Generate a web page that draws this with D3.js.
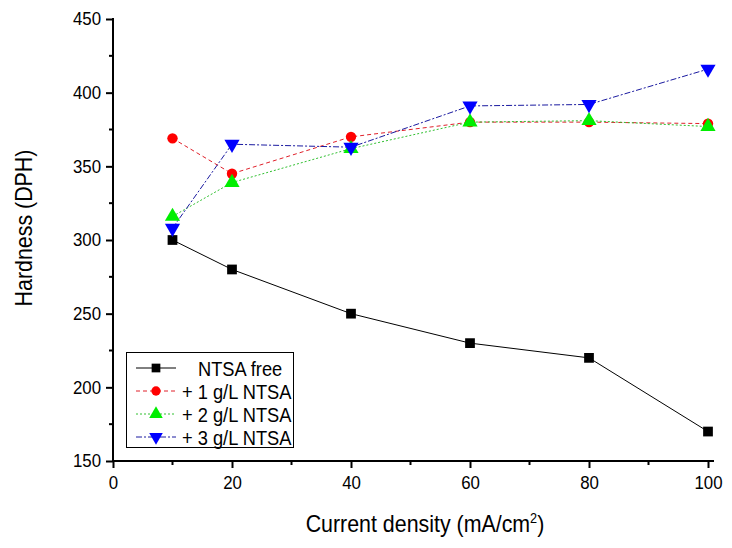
<!DOCTYPE html>
<html><head><meta charset="utf-8">
<script src="https://cdn.jsdelivr.net/npm/d3@7"></script>
<style>body{margin:0;background:#fff}svg{display:block;font-family:"Liberation Sans",Arial,sans-serif}</style>
</head><body>
<svg id="c" width="732" height="548"></svg>
<script>
const xValues = [10, 20, 40, 60, 80, 100];
const seriesNames = ["NTSA free", "+ 1 g/L NTSA", "+ 2 g/L NTSA", "+ 3 g/L NTSA"];
const free = [300, 280, 250, 230, 220, 170];
const ntsa1 = [369, 345, 370, 380, 380, 379];
const ntsa2 = [316, 339, 362, 380, 381, 377];
const ntsa3 = [308, 365, 363, 391, 392, 416];
const xTicks = [0, 20, 40, 60, 80, 100];
const yTicks = [150, 200, 250, 300, 350, 400, 450];
const colors = ["#000000", "#ff0000", "#00ee00", "#0000ff"];
const lineColors = ["#000000", "#e0202a", "#30c030", "#1a1aa0"];
const dashes = [null, "4,3", "2,2", "6,2,2,2"];
const symbols = [d3.symbolSquare, d3.symbolCircle, d3.symbolTriangle, "down"];
const allSeries = [free, ntsa1, ntsa2, ntsa3];
const SX = 0.91; // horizontal condensing of the reference type

const svg = d3.select("#c");
const x = d3.scaleLinear().domain([0, 100]).range([113, 708]);
const y = d3.scaleLinear().domain([150, 450]).range([461, 19]);

// axes
const xAxis = d3.axisBottom(x).tickValues(xTicks).tickSize(7).tickFormat(d3.format("d"));
const gx = svg.append("g").attr("transform", "translate(0,461)").call(xAxis);
gx.select(".domain").remove();
gx.append("line").attr("x1", 112).attr("x2", 714).attr("y1", 0).attr("y2", 0).attr("stroke", "#000").attr("stroke-width", 2);
gx.selectAll(".tick line").attr("stroke-width", 2);
gx.selectAll(".tick text").attr("font-size", 18.5).attr("y", 0).attr("dy", null)
  .attr("transform", `translate(0,28) scale(${SX},1)`).attr("fill", "#000").attr("font-family", "Liberation Sans, Arial");
gx.selectAll(".minor").data([10, 30, 50, 70, 90]).enter().append("line")
  .attr("x1", d => x(d)).attr("x2", d => x(d)).attr("y1", 0).attr("y2", 4).attr("stroke", "#000").attr("stroke-width", 2);

const yAxis = d3.axisLeft(y).tickValues(yTicks).tickSize(7);
const gy = svg.append("g").attr("transform", "translate(113,0)").call(yAxis);
gy.select(".domain").remove();
gy.append("line").attr("x1", 0).attr("x2", 0).attr("y1", 18).attr("y2", 462).attr("stroke", "#000").attr("stroke-width", 2);
gy.selectAll(".tick line").attr("stroke-width", 2);
gy.selectAll(".tick text").attr("font-size", 18.5).attr("fill", "#000").attr("x", 0)
  .attr("transform", `translate(-12,0) scale(${SX},1)`).attr("font-family", "Liberation Sans, Arial");
gy.selectAll(".minor").data([175, 225, 275, 325, 375, 425]).enter().append("line")
  .attr("x1", 0).attr("x2", -4).attr("y1", d => y(d)).attr("y2", d => y(d)).attr("stroke", "#000").attr("stroke-width", 2);

// axis titles
svg.append("text").attr("transform", `translate(425,532) scale(${SX},1)`).attr("text-anchor", "middle").attr("font-size", 23.5)
  .html('Current density (mA/cm<tspan dy="-9" font-size="14">2</tspan><tspan dy="9">)</tspan>');
svg.append("text").attr("transform", `translate(32,228) rotate(-90) scale(${SX},1)`).attr("text-anchor", "middle").attr("font-size", 23.5).text("Hardness (DPH)");

function symPath(s, size) {
  if (s === "down") return d3.symbol().type(d3.symbolTriangle).size(size)();
  return d3.symbol().type(s).size(size)();
}
const sizes = [95, 85, 100, 100];

// lines and markers
const line = d3.line().x((d, i) => x(xValues[i])).y(d => y(d));
allSeries.forEach((s, k) => {
  svg.append("path").attr("d", line(s)).attr("fill", "none").attr("stroke", lineColors[k])
    .attr("stroke-width", 1).attr("stroke-dasharray", dashes[k]);
});
allSeries.forEach((s, k) => {
  svg.selectAll(null).data(s).enter().append("path")
    .attr("d", symPath(symbols[k], sizes[k]))
    .attr("transform", (d, i) => `translate(${x(xValues[i])},${y(d)})` + (symbols[k] === "down" ? " rotate(180)" : ""))
    .attr("fill", colors[k]);
});

// legend
const lg = svg.append("g");
lg.append("rect").attr("x", 126.5).attr("y", 352.5).attr("width", 167).attr("height", 95).attr("fill", "#fff").attr("stroke", "#000").attr("stroke-width", 1);
seriesNames.forEach((n, k) => {
  const yy = 368 + k * 23;
  lg.append("line").attr("x1", 136).attr("x2", 176).attr("y1", yy).attr("y2", yy).attr("stroke", lineColors[k])
    .attr("stroke-width", 1).attr("stroke-dasharray", dashes[k]);
  lg.append("path").attr("d", symPath(symbols[k], sizes[k] * 0.8))
    .attr("transform", `translate(156,${yy})` + (symbols[k] === "down" ? " rotate(180)" : "")).attr("fill", colors[k]);
  lg.append("text").attr("transform", `translate(${k === 0 ? 198 : 182},${yy + 7.5}) scale(0.9,1)`)
    .attr("font-size", 20.3).attr("fill", "#000").text(n);
});
</script>
</body></html>
